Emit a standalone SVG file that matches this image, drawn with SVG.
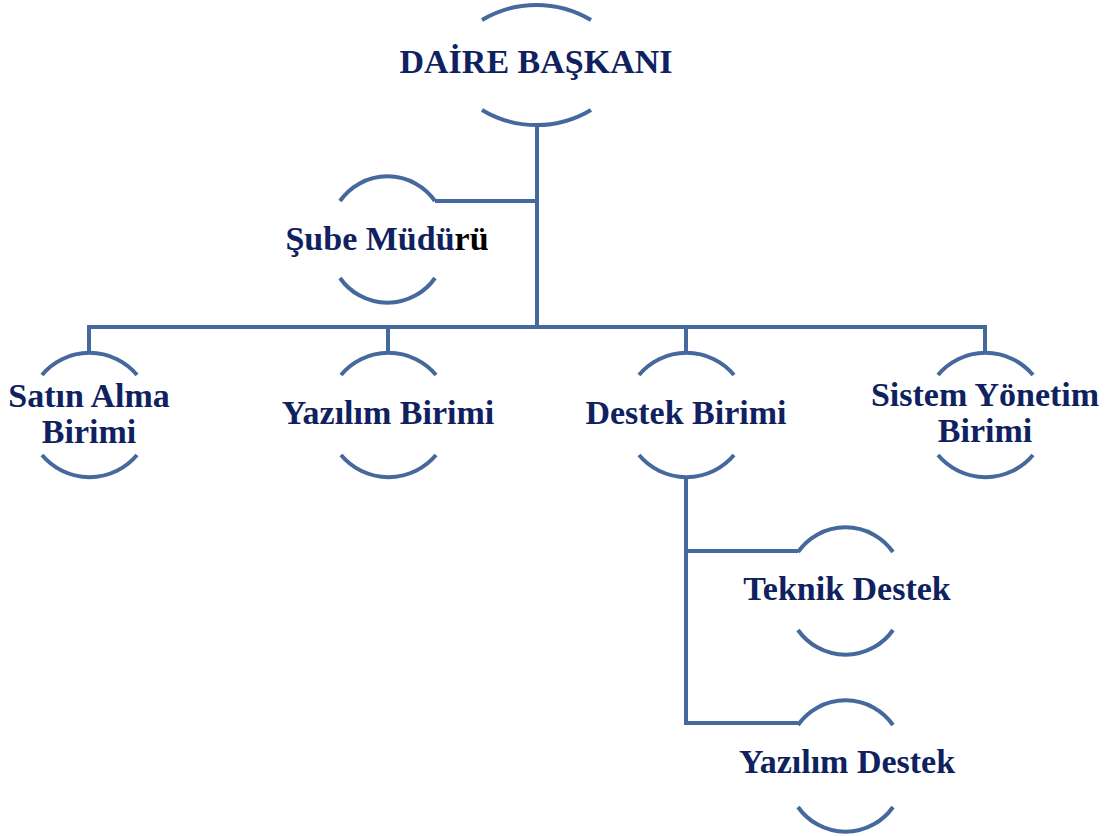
<svg xmlns="http://www.w3.org/2000/svg" width="1120" height="836" viewBox="0 0 1120 836">
<style>
.arc{fill:none;stroke:#45699c;stroke-width:4;stroke-linecap:butt}
.con{fill:none;stroke:#45699c;stroke-width:4;stroke-linejoin:miter}
.t{font-family:"Liberation Serif","Times New Roman",serif;font-weight:bold;font-size:34px;fill:#0f225f;text-anchor:middle}
</style>
<rect width="1120" height="836" fill="#ffffff"/>
<g id="connectors">
<path class="con" d="M537 126 V327"/>
<path class="con" d="M435 201 H537"/>
<path class="con" d="M89 353 V327 H985 V353"/>
<path class="con" d="M388 327 V353"/>
<path class="con" d="M686 327 V353"/>
<path class="con" d="M686 477 V723 H798"/>
<path class="con" d="M686 551 H798"/>
</g>
<g id="daire-baskani">
<path class="arc" d="M482 20 A106 106 0 0 1 591 20"/>
<path class="arc" d="M482 110 A106 106 0 0 0 591 110"/>
<text class="t" x="536" y="73">DAİRE BAŞKANI</text>
</g>
<g id="sube-muduru">
<path class="arc" d="M340 201 A58 58 0 0 1 435 201"/>
<path class="arc" d="M340 278 A58 58 0 0 0 435 278"/>
<text class="t" x="387" y="250">Şube Müdü<tspan fill="#000000">rü</tspan></text>
</g>
<g id="satin-alma">
<path class="arc" d="M42 375 A62 62 0 0 1 137 375"/>
<path class="arc" d="M42 455 A62 62 0 0 0 137 455"/>
<text class="t" x="89" y="407">Satın Alma</text>
<text class="t" x="89" y="443">Birimi</text>
</g>
<g id="yazilim-birimi">
<path class="arc" d="M341 375 A62 62 0 0 1 436 375"/>
<path class="arc" d="M341 455 A62 62 0 0 0 436 455"/>
<text class="t" x="388" y="424">Yazılım Birimi</text>
</g>
<g id="destek-birimi">
<path class="arc" d="M639 375 A62 62 0 0 1 734 375"/>
<path class="arc" d="M639 455 A62 62 0 0 0 734 455"/>
<text class="t" x="686" y="424">Destek Birimi</text>
</g>
<g id="sistem-yonetim">
<path class="arc" d="M938 375 A62 62 0 0 1 1033 375"/>
<path class="arc" d="M938 455 A62 62 0 0 0 1033 455"/>
<text class="t" x="985" y="406">Sistem Yönetim</text>
<text class="t" x="985" y="442">Birimi</text>
</g>
<g id="teknik-destek">
<path class="arc" d="M798 552 A58 58 0 0 1 893 552"/>
<path class="arc" d="M798 630 A58 58 0 0 0 893 630"/>
<text class="t" x="847" y="600">Teknik Destek</text>
</g>
<g id="yazilim-destek">
<path class="arc" d="M798 725 A58 58 0 0 1 893 725"/>
<path class="arc" d="M798 807 A58 58 0 0 0 893 807"/>
<text class="t" x="847" y="773">Yazılım Destek</text>
</g>
</svg>
